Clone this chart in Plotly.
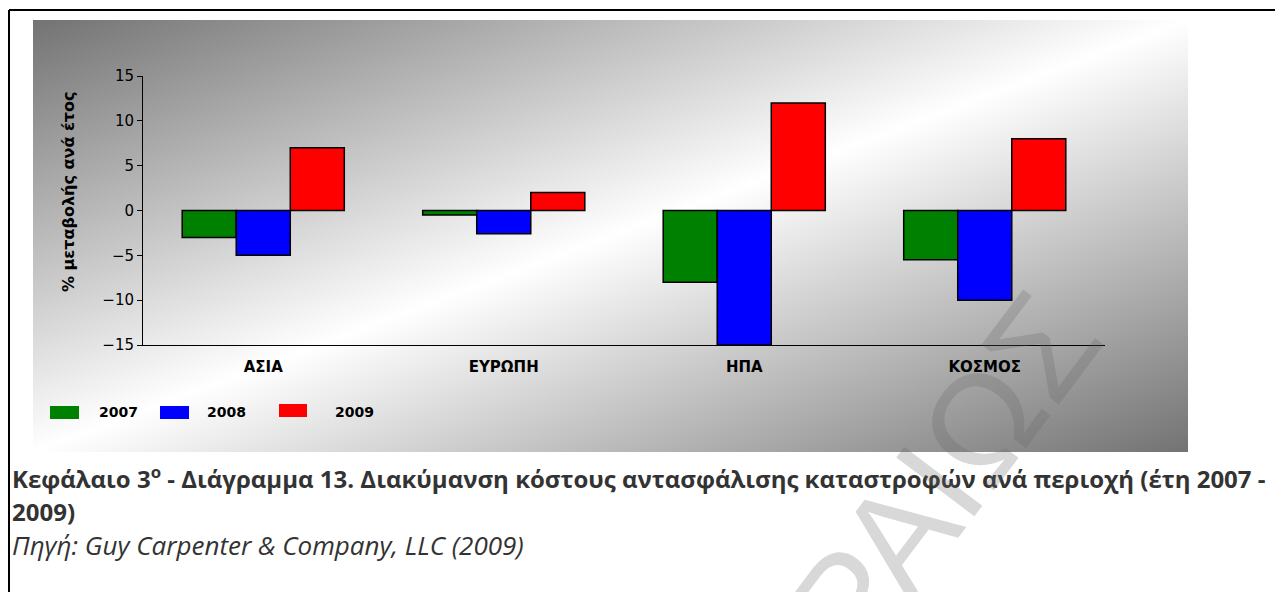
import base64
import plotly.graph_objects as go

# Regions on the x axis and yearly % change per region
regions = ["ΑΣΙΑ", "ΕΥΡΩΠΗ", "ΗΠΑ", "ΚΟΣΜΟΣ"]
years = ["2007", "2008", "2009"]
change_2007 = [-3.0, -0.5, -8.0, -5.5]
change_2008 = [-5.0, -2.6, -15.0, -10.0]
change_2009 = [7.0, 2.0, 12.0, 8.0]
y_ticks = [-15, -10, -5, 0, 5, 10, 15]

series = [change_2007, change_2008, change_2009]
colors = ["#008000", "#0000ff", "#ff0000"]

W, H = 1275, 592


def px(x):
    return x / W


def py(y):
    return 1 - y / H


CHART_FONT = "DejaVu Sans"

fig = go.Figure()
for name, vals, col in zip(years, series, colors):
    fig.add_trace(go.Bar(
        x=regions, y=vals, name=name,
        marker=dict(color=col, line=dict(color="#000000", width=1.5)),
        showlegend=False,
    ))

# Diagonal grey-white-grey gradient panel behind the chart
pw, ph = 1155, 432
svg = (
    f'<svg xmlns="http://www.w3.org/2000/svg" width="{pw}" height="{ph}" '
    f'viewBox="0 0 {pw} {ph}" preserveAspectRatio="none">'
    '<defs><linearGradient id="g" x1="0" y1="0" x2="1" y2="1">'
    '<stop offset="0" stop-color="#737373"/>'
    '<stop offset="0.5" stop-color="#ffffff"/>'
    '<stop offset="1" stop-color="#737373"/>'
    '</linearGradient></defs>'
    f'<rect width="{pw}" height="{ph}" fill="url(#g)"/></svg>'
)
src = "data:image/svg+xml;base64," + base64.b64encode(svg.encode()).decode()

shapes = [
    # page frame (top and left rules)
    dict(type="line", xref="paper", yref="paper", x0=px(9), x1=1.0, y0=py(10), y1=py(10),
         line=dict(color="#000000", width=2)),
    dict(type="line", xref="paper", yref="paper", x0=px(9), x1=px(9), y0=py(10), y1=0,
         line=dict(color="#000000", width=2)),
]


def note(text, x, y, size, family=CHART_FONT, color="#000000", xanchor="center", **kw):
    return dict(text=text, x=px(x), y=py(y), xref="paper", yref="paper",
                xanchor=xanchor, yanchor="middle", showarrow=False,
                font=dict(family=family, size=size, color=color), **kw)


annotations = [
    note("<b>% μεταβολής ανά έτος</b>", 68, 192, 16, textangle=-90),
]

# Legend: coloured boxes with year labels
legend_boxes = [(50, 79, 406, 419), (160, 189, 406, 419), (279, 307, 404, 417)]
legend_text_x = [97, 205, 333]
for name, col, (x0, x1, y0, y1), tx in zip(years, colors, legend_boxes, legend_text_x):
    shapes.append(dict(type="rect", xref="paper", yref="paper",
                       x0=px(x0), x1=px(x1), y0=py(y1), y1=py(y0),
                       fillcolor=col, line=dict(width=0)))
    annotations.append(note(f"<b>{name}</b>", tx, 412, 14, xanchor="left"))

# Caption under the chart
CAP_FONT = "Open Sans"
annotations += [
    note("<b>Κεφάλαιο 3<sup>ο</sup> - Διάγραμμα 13. Διακύμανση κόστους αντασφάλισης "
         "καταστροφών ανά περιοχή (έτη 2007 -</b>", 10, 477, 24, CAP_FONT, "#333333", "left"),
    note("<b>2009)</b>", 10, 511, 24, CAP_FONT, "#333333", "left"),
    note("<i>Πηγή: Guy Carpenter &amp; Company, LLC (2009)</i>", 10, 545, 26,
         CAP_FONT, "#333333", "left"),
    # faint diagonal watermark
    note("ΡΑΙΩΣ", 943, 475, 142, "Liberation Sans", "rgba(100,100,100,0.25)", textangle=-53),
]

fig.update_layout(
    width=W, height=H,
    margin=dict(l=0, r=0, t=0, b=0, autoexpand=False),
    paper_bgcolor="#ffffff",
    plot_bgcolor="rgba(0,0,0,0)",
    barmode="group",
    bargap=0.326,
    bargroupgap=0,
    showlegend=False,
    images=[dict(source=src, xref="paper", yref="paper", x=px(33), y=py(20),
                 sizex=pw / W, sizey=ph / H, sizing="stretch", layer="below",
                 xanchor="left", yanchor="top")],
    shapes=shapes,
    annotations=annotations,
    xaxis=dict(
        domain=[px(143), px(1105)],
        showline=True, linecolor="#000000", linewidth=1,
        showgrid=False, zeroline=False, ticks="",
        ticklabelstandoff=8,
        tickfont=dict(family=CHART_FONT, size=15, color="#000000", weight="bold"),
    ),
    yaxis=dict(
        domain=[py(345), py(76)],
        range=[-15, 15],
        tickvals=y_ticks,
        showline=True, linecolor="#000000", linewidth=1,
        ticks="outside", ticklen=5, tickcolor="#000000",
        showgrid=False, zeroline=False,
        tickfont=dict(family=CHART_FONT, size=15, color="#000000"),
    ),
)

fig.write_html("out.html")
